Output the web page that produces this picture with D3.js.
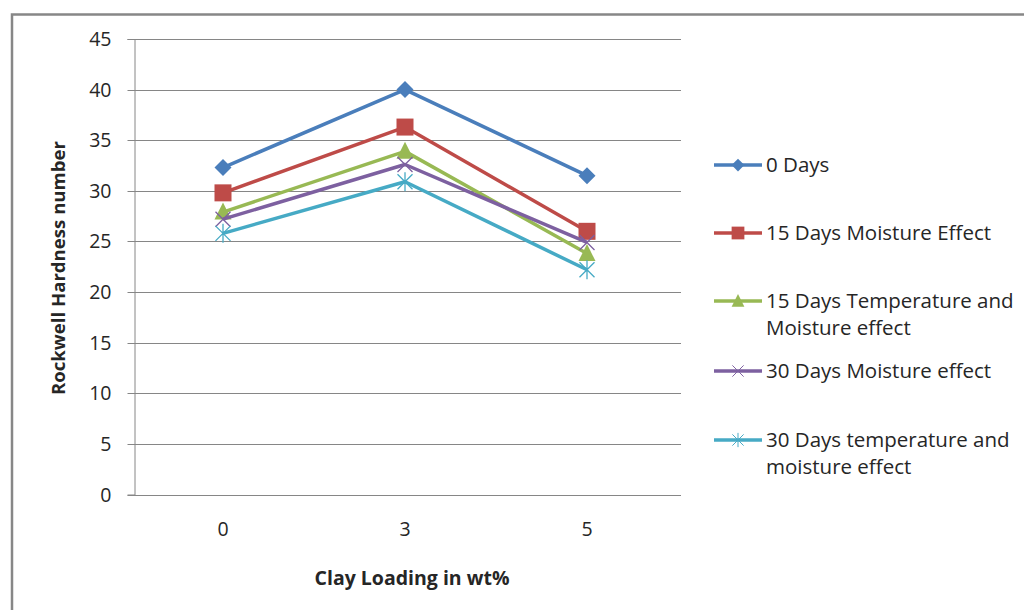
<!DOCTYPE html>
<html>
<head>
<meta charset="utf-8">
<script src="https://cdn.jsdelivr.net/npm/d3@7"></script>
<style>
  html, body { margin: 0; padding: 0; background: #fff; }
  svg { display: block; }
  text { font-family: "Open Sans", Lato, sans-serif; fill: #262626; }
</style>
</head>
<body>
<svg id="chart" width="1024" height="610"></svg>
<script>
// Clay loading (wt%) categories
const categories = ["0", "3", "5"];

// Rockwell hardness per exposure condition
const days0 = [32.3, 40.0, 31.5];
const days15Moisture = [29.8, 36.3, 26.0];
const days15TempMoisture = [27.9, 33.9, 23.8];
const days30Moisture = [27.2, 32.6, 24.9];
const days30TempMoisture = [25.8, 30.9, 22.2];

const yTicks = [0, 5, 10, 15, 20, 25, 30, 35, 40, 45];

const series = [
  { name: ["0 Days"], values: days0, color: "#4a7ebb", marker: "diamond" },
  { name: ["15 Days Moisture Effect"], values: days15Moisture, color: "#be4b48", marker: "square" },
  { name: ["15 Days Temperature and", "Moisture effect"], values: days15TempMoisture, color: "#98b954", marker: "triangle" },
  { name: ["30 Days Moisture effect"], values: days30Moisture, color: "#7d60a0", marker: "x" },
  { name: ["30 Days temperature and", "moisture effect"], values: days30TempMoisture, color: "#46aac5", marker: "star" }
];

const FONT = "'Open Sans', Lato, sans-serif";
const svg = d3.select("#chart");

// chart frame
svg.append("rect")
  .attr("x", 12).attr("y", 14.5)
  .attr("width", 1020).attr("height", 610)
  .attr("fill", "none").attr("stroke", "#878787").attr("stroke-width", 2.5);

const plot = { left: 134, right: 681, top: 39, bottom: 494.5 };

const x = d3.scaleBand().domain(categories).range([plot.left - 2, plot.right - 3]);
const y = d3.scaleLinear().domain([0, 45]).range([plot.bottom, plot.top]);

// horizontal gridlines
svg.append("g").selectAll("line").data(yTicks).join("line")
  .attr("x1", plot.left).attr("x2", plot.right)
  .attr("y1", d => Math.round(y(d)) + 0.5).attr("y2", d => Math.round(y(d)) + 0.5)
  .attr("stroke", "#868686").attr("stroke-width", 1);

// y axis
const yAxis = svg.append("g")
  .attr("transform", `translate(${plot.left + 0.5},0)`)
  .call(d3.axisLeft(y).tickValues(yTicks).tickSize(7).tickPadding(16).tickFormat(d3.format("d")));
yAxis.select(".domain").attr("stroke", "#868686");
yAxis.selectAll(".tick line").attr("stroke", "#868686");
yAxis.selectAll(".tick").attr("transform", d => `translate(0,${Math.round(y(d)) + 0.5})`);
yAxis.selectAll("text").attr("font-size", 19.5).attr("font-family", FONT).attr("fill", "#262626");

// x axis
const xAxis = svg.append("g")
  .attr("transform", `translate(0,${Math.round(plot.bottom) + 0.5})`)
  .call(d3.axisBottom(x).tickSize(0).tickPadding(27));
xAxis.select(".domain").attr("d", `M${plot.left},0H${plot.right}`).attr("stroke", "#868686");
xAxis.selectAll("text").attr("font-size", 19.5).attr("font-family", FONT).attr("fill", "#262626");

// axis titles
svg.append("text")
  .attr("transform", "translate(65,268) rotate(-90)")
  .attr("text-anchor", "middle")
  .attr("font-size", 18.6).attr("font-weight", "bold")
  .text("Rockwell Hardness number");

svg.append("text")
  .attr("x", 412).attr("y", 585)
  .attr("text-anchor", "middle")
  .attr("font-size", 19.5).attr("font-weight", "bold")
  .text("Clay Loading in wt%");

// marker shapes
function drawMarker(g, type, color, cx, cy) {
  const s = 7.5;
  if (type === "diamond") {
    g.append("path").attr("d", `M${cx},${cy - s - 1}L${cx + s + 1},${cy}L${cx},${cy + s + 1}L${cx - s - 1},${cy}Z`).attr("fill", color);
  } else if (type === "square") {
    g.append("rect").attr("x", cx - s - 1).attr("y", cy - s - 1).attr("width", 2 * s + 2).attr("height", 2 * s + 2).attr("fill", color);
  } else if (type === "triangle") {
    g.append("path").attr("d", `M${cx},${cy - s - 2}L${cx + s + 1},${cy + s}L${cx - s - 1},${cy + s}Z`).attr("fill", color);
  } else if (type === "x") {
    g.append("path").attr("d", `M${cx - s},${cy - s}L${cx + s},${cy + s}M${cx - s},${cy + s}L${cx + s},${cy - s}`)
      .attr("stroke", color).attr("stroke-width", 1.3).attr("fill", "none");
  } else if (type === "star") {
    g.append("path").attr("d", `M${cx - s},${cy - s}L${cx + s},${cy + s}M${cx - s},${cy + s}L${cx + s},${cy - s}M${cx},${cy - s - 2}L${cx},${cy + s + 2}`)
      .attr("stroke", color).attr("stroke-width", 1.3).attr("fill", "none");
  }
}

const line = d3.line()
  .x((d, i) => x(categories[i]) + x.bandwidth() / 2)
  .y(d => y(d));

series.forEach(s => {
  const g = svg.append("g");
  g.append("path")
    .datum(s.values)
    .attr("d", line)
    .attr("fill", "none")
    .attr("stroke", s.color)
    .attr("stroke-width", 3.5)
    .attr("stroke-linejoin", "round");
  s.values.forEach((v, i) => drawMarker(g, s.marker, s.color, x(categories[i]) + x.bandwidth() / 2, y(v)));
});

// legend
const legendY = [165, 233, 301, 371, 440];
series.forEach((s, i) => {
  const g = svg.append("g");
  const ly = legendY[i];
  g.append("line").attr("x1", 714).attr("x2", 762).attr("y1", ly).attr("y2", ly)
    .attr("stroke", s.color).attr("stroke-width", 3.5);
  drawMarker(g, s.marker, s.color, 738, ly);
  g.selectAll("path,rect").attr("transform", `translate(738,${ly}) scale(0.75) translate(-738,${-ly})`);
  s.name.forEach((t, j) => {
    g.append("text").attr("x", 766).attr("y", ly + 7 + j * 27)
      .attr("font-size", 20.5).text(t);
  });
});
</script>
</body>
</html>
